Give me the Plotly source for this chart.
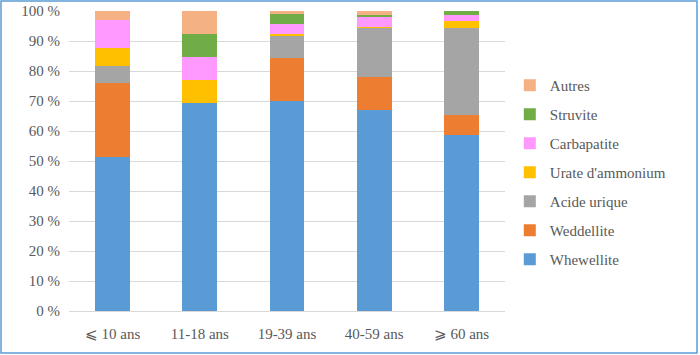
import plotly.graph_objects as go

categories = ["⩽ 10 ans", "11-18 ans", "19-39 ans", "40-59 ans", "⩾ 60 ans"]
whewellite = [51.4, 69.2, 70.0, 67.0, 58.7]
weddellite = [24.5, 0.0, 14.4, 11.0, 6.6]
acide_urique = [5.9, 0.0, 7.4, 16.4, 28.9]
urate = [6.0, 7.8, 0.6, 0.4, 2.4]
carbapatite = [9.3, 7.7, 3.4, 3.3, 2.0]
struvite = [0.0, 7.6, 3.2, 0.5, 1.4]
autres = [2.9, 7.7, 1.0, 1.4, 0.0]

series = [
    ("Whewellite", whewellite, "#5B9BD5"),
    ("Weddellite", weddellite, "#ED7D31"),
    ("Acide urique", acide_urique, "#A5A5A5"),
    ("Urate d'ammonium", urate, "#FFC000"),
    ("Carbapatite", carbapatite, "#FF99FF"),
    ("Struvite", struvite, "#70AD47"),
    ("Autres", autres, "#F4B183"),
]

fig = go.Figure()
n = len(series)
for i, (name, vals, color) in enumerate(series):
    fig.add_trace(go.Bar(x=categories, y=vals, name=name, legendgroup=name,
                         legendrank=n - i,
                         marker=dict(color=color, line=dict(width=0))))

font_fam = "Liberation Serif"
fs = 15
fig.update_layout(
    barmode="stack",
    bargap=0.6,
    width=700, height=355,
    margin=dict(l=69, r=195, t=11, b=44, autoexpand=False),
    paper_bgcolor="white", plot_bgcolor="white",
    font=dict(family=font_fam, size=fs, color="#595959"),
    showlegend=True,
    legend=dict(traceorder="grouped", tracegroupgap=6.5,
                x=1.011, xanchor="left", y=0.462, yanchor="middle",
                font=dict(family=font_fam, size=fs, color="#595959"), itemwidth=30),
    yaxis=dict(range=[0, 100], dtick=10, ticksuffix=" %", showgrid=True,
               gridcolor="#D9D9D9", gridwidth=1, zeroline=True,
               zerolinecolor="#D9D9D9", zerolinewidth=1, showline=False,
               ticklabelstandoff=8, automargin=False,
               tickfont=dict(family=font_fam, size=fs, color="#595959")),
    xaxis=dict(showline=False, showgrid=False, ticks="", ticklabelstandoff=12,
               automargin=False,
               tickfont=dict(family=font_fam, size=fs, color="#595959")),
    modebar=dict(bgcolor="rgba(0,0,0,0)", color="rgba(0,0,0,0)",
                 activecolor="rgba(0,0,0,0)"),
    shapes=[dict(type="rect", xref="paper", yref="paper",
                 x0=(1 - 69) / 436, x1=(697 - 69) / 436,
                 y0=(311 - 353) / 300, y1=(311 - 1) / 300,
                 line=dict(color="#5B9BD5", width=1.5), layer="above")],
)

fig.write_html(
    "out.html",
    post_script=(
        "document.body.style.margin='0';"
        "document.querySelectorAll('.modebar-container').forEach("
        "function(e){e.style.display='none';});"
    ),
)
